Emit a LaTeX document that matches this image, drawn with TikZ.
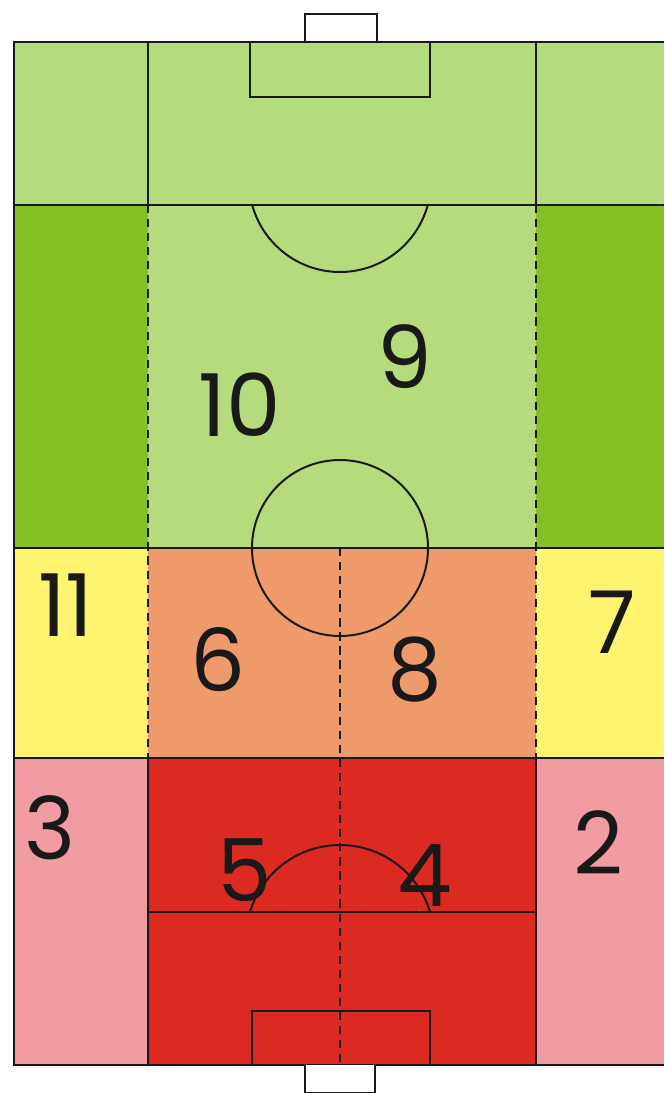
\documentclass[tikz,border=0pt]{standalone}
\usepackage{fontspec}
\setmainfont{Poppins}
\usetikzlibrary{calc}
\definecolor{meadow}{HTML}{B6DB7C}
\definecolor{grass}{HTML}{84C026}
\definecolor{lemon}{HTML}{FFF46F}
\definecolor{peach}{HTML}{EF9A6A}
\definecolor{blush}{HTML}{F09CA2}
\definecolor{scarlet}{HTML}{DD2A20}

\begin{document}
\begin{tikzpicture}[x=.03cm,y=-.03cm,
  pitch/.style={black!90,line width=1.7pt},
  halfline/.style={pitch,dash pattern=on 7pt off 5pt},
  num/.style={font=\fontsize{74}{74}\selectfont,text=black!90,inner sep=0pt}]
\useasboundingbox (0,0) rectangle (664,1093);
% zones
\fill[meadow] (14,42) rectangle (664,205);
\fill[grass] (14,205) rectangle (664,548);
\fill[meadow] (148,205) rectangle (536,548);
\fill[lemon] (14,548) rectangle (664,758);
\fill[peach] (148,548) rectangle (536,758);
\fill[blush] (14,758) rectangle (664,1065);
\fill[scarlet] (148,758) rectangle (536,1065);
% outline and bands
\draw[pitch] (664,42)--(14,42)--(14,1065)--(664,1065);
\foreach \y in {205,548,758}{\draw[pitch] (14,\y)--(664,\y);}
\foreach \x in {148,536}{
  \draw[pitch] (\x,42)--(\x,205);
  \draw[halfline] (\x,205)--(\x,758);
  \draw[pitch] (\x,758)--(\x,1065);}
\draw[halfline] (340,548)--(340,1065);
% top end
\draw[pitch,fill=white] (305,42)--(305,14)--(377,14)--(377,42);
\draw[pitch] (250,42) rectangle (430,97);
\begin{scope}
\clip (148,205) rectangle (536,320);
\draw[pitch] (340,181) circle (91);
\end{scope}
% centre circle
\draw[pitch] (340,548) circle (88);
% bottom end
\draw[pitch] (148,912) rectangle (536,1065);
\begin{scope}
\clip (148,912) rectangle (536,800);
\draw[pitch] (340,939) circle (94);
\end{scope}
\draw[pitch] (252,1011) rectangle (430,1065);
\draw[pitch,fill=white] (305,1065)--(305,1093)--(375,1093)--(375,1065);
% shirt numbers
\foreach \x/\y/\n in {405/357/9,240/405/10,66/605/11,218/660/6,415/670/8,
  612/622/7,50/828/3,245/870/5,425/875/4,598/843/2}{
  \node[num] (n\n) at (\x,\y) {\n};}
\end{tikzpicture}
\end{document}
